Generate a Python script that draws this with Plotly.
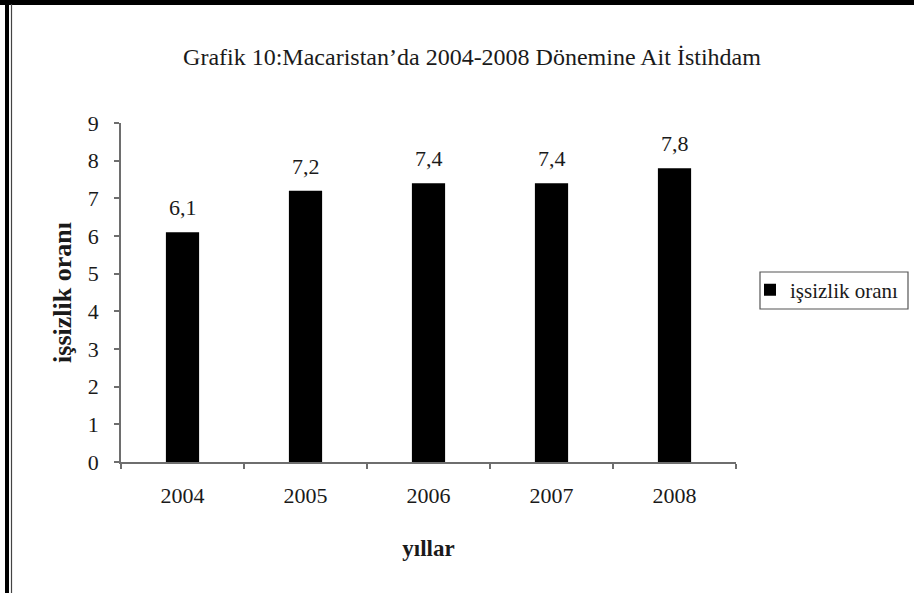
import plotly.graph_objects as go

years = ["2004", "2005", "2006", "2007", "2008"]
unemployment = [6.1, 7.2, 7.4, 7.4, 7.8]
series_name = "işsizlik oranı"
title_text = "Grafik 10:Macaristan’da 2004-2008 Dönemine Ait İstihdam"
x_title = "yıllar"
y_title = "işsizlik oranı"

W, H = 914, 593
L, R, T, B = 121, 178, 123, 131
pw, ph = W - L - R, H - T - B

def px(x):
    return (x - L) / pw

def py(y):
    return (H - B - y) / ph

FONT = "Liberation Serif, Times New Roman, serif"
TXT = "#1a1a1a"
AX = "#6e6e6e"

fig = go.Figure()
fig.add_trace(go.Bar(
    x=years, y=unemployment, name=series_name,
    marker=dict(color="black", line=dict(width=0)),
    width=0.27,
    showlegend=True,
    hoverinfo="x+y",
))

# value labels above bars (category index positions)
for i, v in enumerate(unemployment):
    fig.add_annotation(
        x=i, y=v, xref="x", yref="y",
        text=f"{v:.1f}".replace(".", ","),
        showarrow=False, yanchor="bottom", yshift=10,
        font=dict(family=FONT, size=22, color=TXT),
    )

fig.update_layout(
    width=W, height=H,
    margin=dict(l=L, r=R, t=T, b=B, autoexpand=False),
    paper_bgcolor="white", plot_bgcolor="white",
    separators=",.",
    font=dict(family=FONT, size=20, color=TXT),
    title=dict(text=title_text, x=472 / W, xanchor="center",
               y=1 - 57 / H, yanchor="middle",
               font=dict(family=FONT, size=24, color=TXT)),
    showlegend=True,
    legend=dict(x=px(750), xanchor="left", y=py(290), yanchor="middle",
                bgcolor="rgba(0,0,0,0)", borderwidth=0,
                font=dict(family=FONT, size=21, color=TXT),
                itemwidth=30, tracegroupgap=0),
    bargap=0.73,
)

fig.update_xaxes(
    type="category", range=[-0.5, len(years) - 0.5],
    showline=True, linecolor=AX, linewidth=1.5,
    ticks="outside", ticklen=5, tickcolor=AX, tickwidth=1.5,
    tickson="boundaries", showgrid=False, zeroline=False,
    ticklabelstandoff=13, tickangle=0,
    tickfont=dict(family=FONT, size=22, color=TXT),
    title=dict(text=x_title, standoff=33,
               font=dict(family=FONT, size=23, color=TXT, weight="bold")),
)
fig.update_yaxes(
    range=[0, 9], dtick=1, showline=True, linecolor=AX, linewidth=1.5,
    ticks="outside", ticklen=5, tickcolor=AX, tickwidth=1.5,
    showgrid=False, zeroline=False,
    ticklabelstandoff=11,
    tickfont=dict(family=FONT, size=22, color=TXT),
    title=dict(text=y_title, standoff=9,
               font=dict(family=FONT, size=26, color=TXT, weight="bold")),
)

# legend frame
fig.add_shape(type="rect", xref="paper", yref="paper",
              x0=px(760), x1=px(908), y0=py(309), y1=py(272),
              line=dict(color="#555", width=1.2), fillcolor="rgba(0,0,0,0)")

# decorative frame around the chart image
fig.add_shape(type="line", xref="paper", yref="paper",
              x0=px(0), x1=px(W), y0=py(2.5), y1=py(2.5),
              line=dict(color="black", width=5))
fig.add_shape(type="line", xref="paper", yref="paper",
              x0=px(7), x1=px(7), y0=py(0), y1=py(H),
              line=dict(color="black", width=4))
fig.add_shape(type="line", xref="paper", yref="paper",
              x0=px(11.5), x1=px(11.5), y0=py(4), y1=py(H),
              line=dict(color="#444", width=1.2))

fig.write_html("out.html", config={"displayModeBar": False},
               post_script="document.body.style.margin='0px';")
